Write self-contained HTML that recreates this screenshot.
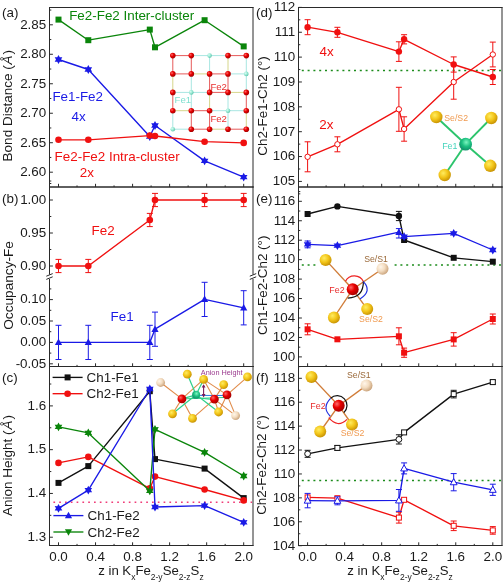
<!DOCTYPE html><html><head><meta charset="utf-8"><style>html,body{margin:0;padding:0;background:#fff;width:504px;height:584px;overflow:hidden}svg text{font-family:"Liberation Sans",sans-serif}</style></head><body><svg width="504" height="584" viewBox="0 0 504 584" style="position:absolute;left:0;top:0;will-change:transform" font-family='"Liberation Sans", sans-serif'>
<rect width="504" height="584" fill="#fff"/>
<defs><radialGradient id="gy" cx="0.38" cy="0.35" r="0.72"><stop offset="0" stop-color="#ffec60"/><stop offset="0.5" stop-color="#f2c418"/><stop offset="1" stop-color="#c08a00"/></radialGradient><radialGradient id="gt" cx="0.35" cy="0.35" r="0.7"><stop offset="0" stop-color="#fff6ea"/><stop offset="0.5" stop-color="#f3dcc0"/><stop offset="1" stop-color="#c9a27a"/></radialGradient><radialGradient id="gr" cx="0.35" cy="0.35" r="0.7"><stop offset="0" stop-color="#ff6a6a"/><stop offset="0.45" stop-color="#e80000"/><stop offset="1" stop-color="#a00000"/></radialGradient><radialGradient id="gc" cx="0.55" cy="0.35" r="0.75"><stop offset="0" stop-color="#7cf5c0"/><stop offset="0.45" stop-color="#1cc080"/><stop offset="0.85" stop-color="#11906a"/><stop offset="1" stop-color="#1a4a80"/></radialGradient><radialGradient id="gcl" cx="0.35" cy="0.35" r="0.7"><stop offset="0" stop-color="#d8fff4"/><stop offset="0.6" stop-color="#8de3cc"/><stop offset="1" stop-color="#5cc3aa"/></radialGradient></defs>
<line x1="172.80" y1="55.60" x2="191.30" y2="55.60" stroke="#e65a5a" stroke-width="1.0" />
<line x1="191.30" y1="55.60" x2="209.60" y2="55.60" stroke="#a8e6e2" stroke-width="1.0" />
<line x1="209.60" y1="55.60" x2="228.00" y2="55.60" stroke="#a8e6e2" stroke-width="1.0" />
<line x1="228.00" y1="55.60" x2="246.30" y2="55.60" stroke="#e65a5a" stroke-width="1.0" />
<line x1="172.80" y1="73.90" x2="191.30" y2="73.90" stroke="#e65a5a" stroke-width="1.0" />
<line x1="191.30" y1="73.90" x2="209.60" y2="73.90" stroke="#d6d68a" stroke-width="1.0" />
<line x1="209.60" y1="73.90" x2="228.00" y2="73.90" stroke="#e65a5a" stroke-width="1.0" />
<line x1="228.00" y1="73.90" x2="246.30" y2="73.90" stroke="#a8e6e2" stroke-width="1.0" />
<line x1="172.80" y1="92.40" x2="191.30" y2="92.40" stroke="#a8e6e2" stroke-width="1.0" />
<line x1="191.30" y1="92.40" x2="209.60" y2="92.40" stroke="#a8e6e2" stroke-width="1.0" />
<line x1="209.60" y1="92.40" x2="228.00" y2="92.40" stroke="#e65a5a" stroke-width="1.0" />
<line x1="228.00" y1="92.40" x2="246.30" y2="92.40" stroke="#d6d68a" stroke-width="1.0" />
<line x1="172.80" y1="110.70" x2="191.30" y2="110.70" stroke="#d6d68a" stroke-width="1.0" />
<line x1="191.30" y1="110.70" x2="209.60" y2="110.70" stroke="#e65a5a" stroke-width="1.0" />
<line x1="209.60" y1="110.70" x2="228.00" y2="110.70" stroke="#a8e6e2" stroke-width="1.0" />
<line x1="228.00" y1="110.70" x2="246.30" y2="110.70" stroke="#a8e6e2" stroke-width="1.0" />
<line x1="172.80" y1="129.20" x2="191.30" y2="129.20" stroke="#a8e6e2" stroke-width="1.0" />
<line x1="191.30" y1="129.20" x2="209.60" y2="129.20" stroke="#e65a5a" stroke-width="1.0" />
<line x1="209.60" y1="129.20" x2="228.00" y2="129.20" stroke="#d6d68a" stroke-width="1.0" />
<line x1="228.00" y1="129.20" x2="246.30" y2="129.20" stroke="#e65a5a" stroke-width="1.0" />
<line x1="172.80" y1="55.60" x2="172.80" y2="73.90" stroke="#e65a5a" stroke-width="1.0" />
<line x1="172.80" y1="73.90" x2="172.80" y2="92.40" stroke="#d6d68a" stroke-width="1.0" />
<line x1="172.80" y1="92.40" x2="172.80" y2="110.70" stroke="#e65a5a" stroke-width="1.0" />
<line x1="172.80" y1="110.70" x2="172.80" y2="129.20" stroke="#a8e6e2" stroke-width="1.0" />
<line x1="191.30" y1="55.60" x2="191.30" y2="73.90" stroke="#e65a5a" stroke-width="1.0" />
<line x1="191.30" y1="73.90" x2="191.30" y2="92.40" stroke="#a8e6e2" stroke-width="1.0" />
<line x1="191.30" y1="92.40" x2="191.30" y2="110.70" stroke="#a8e6e2" stroke-width="1.0" />
<line x1="191.30" y1="110.70" x2="191.30" y2="129.20" stroke="#e65a5a" stroke-width="1.0" />
<line x1="209.60" y1="55.60" x2="209.60" y2="73.90" stroke="#a8e6e2" stroke-width="1.0" />
<line x1="209.60" y1="73.90" x2="209.60" y2="92.40" stroke="#e65a5a" stroke-width="1.0" />
<line x1="209.60" y1="92.40" x2="209.60" y2="110.70" stroke="#d6d68a" stroke-width="1.0" />
<line x1="209.60" y1="110.70" x2="209.60" y2="129.20" stroke="#e65a5a" stroke-width="1.0" />
<line x1="228.00" y1="55.60" x2="228.00" y2="73.90" stroke="#d6d68a" stroke-width="1.0" />
<line x1="228.00" y1="73.90" x2="228.00" y2="92.40" stroke="#e65a5a" stroke-width="1.0" />
<line x1="228.00" y1="92.40" x2="228.00" y2="110.70" stroke="#a8e6e2" stroke-width="1.0" />
<line x1="228.00" y1="110.70" x2="228.00" y2="129.20" stroke="#a8e6e2" stroke-width="1.0" />
<line x1="246.30" y1="55.60" x2="246.30" y2="73.90" stroke="#a8e6e2" stroke-width="1.0" />
<line x1="246.30" y1="73.90" x2="246.30" y2="92.40" stroke="#a8e6e2" stroke-width="1.0" />
<line x1="246.30" y1="92.40" x2="246.30" y2="110.70" stroke="#e65a5a" stroke-width="1.0" />
<line x1="246.30" y1="110.70" x2="246.30" y2="129.20" stroke="#d6d68a" stroke-width="1.0" />
<circle cx="172.80" cy="55.60" r="2.8" fill="url(#gr)"/>
<circle cx="191.30" cy="55.60" r="2.8" fill="url(#gr)"/>
<circle cx="209.60" cy="55.60" r="2.3" fill="url(#gcl)"/>
<circle cx="228.00" cy="55.60" r="2.8" fill="url(#gr)"/>
<circle cx="246.30" cy="55.60" r="2.8" fill="url(#gr)"/>
<circle cx="172.80" cy="73.90" r="2.8" fill="url(#gr)"/>
<circle cx="191.30" cy="73.90" r="2.8" fill="url(#gr)"/>
<circle cx="209.60" cy="73.90" r="2.8" fill="url(#gr)"/>
<circle cx="228.00" cy="73.90" r="2.8" fill="url(#gr)"/>
<circle cx="246.30" cy="73.90" r="2.3" fill="url(#gcl)"/>
<circle cx="172.80" cy="92.40" r="2.8" fill="url(#gr)"/>
<circle cx="191.30" cy="92.40" r="2.3" fill="url(#gcl)"/>
<circle cx="209.60" cy="92.40" r="2.8" fill="url(#gr)"/>
<circle cx="228.00" cy="92.40" r="2.8" fill="url(#gr)"/>
<circle cx="246.30" cy="92.40" r="2.8" fill="url(#gr)"/>
<circle cx="172.80" cy="110.70" r="2.8" fill="url(#gr)"/>
<circle cx="191.30" cy="110.70" r="2.8" fill="url(#gr)"/>
<circle cx="209.60" cy="110.70" r="2.8" fill="url(#gr)"/>
<circle cx="228.00" cy="110.70" r="2.3" fill="url(#gcl)"/>
<circle cx="246.30" cy="110.70" r="2.8" fill="url(#gr)"/>
<circle cx="172.80" cy="129.20" r="2.3" fill="url(#gcl)"/>
<circle cx="191.30" cy="129.20" r="2.8" fill="url(#gr)"/>
<circle cx="209.60" cy="129.20" r="2.8" fill="url(#gr)"/>
<circle cx="228.00" cy="129.20" r="2.8" fill="url(#gr)"/>
<circle cx="246.30" cy="129.20" r="2.8" fill="url(#gr)"/>
<text x="210.40" y="89.60" font-size="9.6" fill="#e83030" text-anchor="start" >Fe2</text>
<text x="174.60" y="103.00" font-size="9.6" fill="#7fe0d0" text-anchor="start" >Fe1</text>
<text x="210.40" y="121.60" font-size="9.6" fill="#e83030" text-anchor="start" >Fe2</text>
<polyline points="58.50,19.60 88.30,40.20 149.80,29.60 155.00,47.30 204.60,20.20 243.70,46.40" fill="none" stroke="#0a850a" stroke-width="1.35" stroke-linejoin="round" />
<rect x="55.50" y="16.60" width="6.00" height="6.00" fill="#0a850a"/>
<rect x="85.30" y="37.20" width="6.00" height="6.00" fill="#0a850a"/>
<rect x="146.80" y="26.60" width="6.00" height="6.00" fill="#0a850a"/>
<rect x="152.00" y="44.30" width="6.00" height="6.00" fill="#0a850a"/>
<rect x="201.60" y="17.20" width="6.00" height="6.00" fill="#0a850a"/>
<rect x="240.70" y="43.40" width="6.00" height="6.00" fill="#0a850a"/>
<polyline points="58.50,59.50 88.30,69.50 149.80,136.50 155.00,125.50 204.60,160.90 243.70,177.10" fill="none" stroke="#1a1ae6" stroke-width="1.35" stroke-linejoin="round" />
<polygon points="58.50,55.10 59.75,57.33 62.31,57.30 61.00,59.50 62.31,61.70 59.75,61.67 58.50,63.90 57.25,61.67 54.69,61.70 56.00,59.50 54.69,57.30 57.25,57.33" fill="#1a1ae6"/>
<polygon points="88.30,65.10 89.55,67.33 92.11,67.30 90.80,69.50 92.11,71.70 89.55,71.67 88.30,73.90 87.05,71.67 84.49,71.70 85.80,69.50 84.49,67.30 87.05,67.33" fill="#1a1ae6"/>
<polygon points="149.80,132.10 151.05,134.33 153.61,134.30 152.30,136.50 153.61,138.70 151.05,138.67 149.80,140.90 148.55,138.67 145.99,138.70 147.30,136.50 145.99,134.30 148.55,134.33" fill="#1a1ae6"/>
<polygon points="155.00,121.10 156.25,123.33 158.81,123.30 157.50,125.50 158.81,127.70 156.25,127.67 155.00,129.90 153.75,127.67 151.19,127.70 152.50,125.50 151.19,123.30 153.75,123.33" fill="#1a1ae6"/>
<polygon points="204.60,156.50 205.85,158.73 208.41,158.70 207.10,160.90 208.41,163.10 205.85,163.07 204.60,165.30 203.35,163.07 200.79,163.10 202.10,160.90 200.79,158.70 203.35,158.73" fill="#1a1ae6"/>
<polygon points="243.70,172.70 244.95,174.93 247.51,174.90 246.20,177.10 247.51,179.30 244.95,179.27 243.70,181.50 242.45,179.27 239.89,179.30 241.20,177.10 239.89,174.90 242.45,174.93" fill="#1a1ae6"/>
<polyline points="58.50,139.80 88.30,139.80 149.80,135.60 155.00,136.00 204.60,141.70 243.70,142.90" fill="none" stroke="#f01010" stroke-width="1.35" stroke-linejoin="round" />
<circle cx="58.50" cy="139.80" r="3.3" fill="#f01010"/>
<circle cx="88.30" cy="139.80" r="3.3" fill="#f01010"/>
<circle cx="149.80" cy="135.60" r="3.3" fill="#f01010"/>
<circle cx="155.00" cy="136.00" r="3.3" fill="#f01010"/>
<circle cx="204.60" cy="141.70" r="3.3" fill="#f01010"/>
<circle cx="243.70" cy="142.90" r="3.3" fill="#f01010"/>
<text x="69.20" y="20.30" font-size="13.4" fill="#0a850a" text-anchor="start" >Fe2-Fe2 Inter-cluster</text>
<text x="52.40" y="100.80" font-size="13.4" fill="#1a1ae6" text-anchor="start" >Fe1-Fe2</text>
<text x="71.60" y="120.70" font-size="13.4" fill="#1a1ae6" text-anchor="start" >4x</text>
<text x="54.60" y="161.10" font-size="13.4" fill="#f01010" text-anchor="start" >Fe2-Fe2 Intra-cluster</text>
<text x="79.80" y="177.00" font-size="13.4" fill="#f01010" text-anchor="start" >2x</text>
<line x1="49.50" y1="7.00" x2="49.50" y2="187.50" stroke="#2a2a2a" stroke-width="1.0" />
<line x1="253.00" y1="7.00" x2="253.00" y2="187.50" stroke="#2a2a2a" stroke-width="1.0" />
<line x1="49.00" y1="7.50" x2="253.50" y2="7.50" stroke="#2a2a2a" stroke-width="1.0" />
<line x1="49.00" y1="187.00" x2="253.50" y2="187.00" stroke="#2a2a2a" stroke-width="1.0" />
<line x1="58.50" y1="187.00" x2="58.50" y2="183.80" stroke="#2a2a2a" stroke-width="1.0" />
<line x1="77.02" y1="187.00" x2="77.02" y2="185.40" stroke="#2a2a2a" stroke-width="1.0" />
<line x1="95.54" y1="187.00" x2="95.54" y2="183.80" stroke="#2a2a2a" stroke-width="1.0" />
<line x1="114.06" y1="187.00" x2="114.06" y2="185.40" stroke="#2a2a2a" stroke-width="1.0" />
<line x1="132.58" y1="187.00" x2="132.58" y2="183.80" stroke="#2a2a2a" stroke-width="1.0" />
<line x1="151.10" y1="187.00" x2="151.10" y2="185.40" stroke="#2a2a2a" stroke-width="1.0" />
<line x1="169.62" y1="187.00" x2="169.62" y2="183.80" stroke="#2a2a2a" stroke-width="1.0" />
<line x1="188.14" y1="187.00" x2="188.14" y2="185.40" stroke="#2a2a2a" stroke-width="1.0" />
<line x1="206.66" y1="187.00" x2="206.66" y2="183.80" stroke="#2a2a2a" stroke-width="1.0" />
<line x1="225.18" y1="187.00" x2="225.18" y2="185.40" stroke="#2a2a2a" stroke-width="1.0" />
<line x1="243.70" y1="187.00" x2="243.70" y2="183.80" stroke="#2a2a2a" stroke-width="1.0" />
<line x1="49.50" y1="24.80" x2="52.90" y2="24.80" stroke="#2a2a2a" stroke-width="1.0" />
<line x1="49.50" y1="54.28" x2="52.90" y2="54.28" stroke="#2a2a2a" stroke-width="1.0" />
<line x1="49.50" y1="83.76" x2="52.90" y2="83.76" stroke="#2a2a2a" stroke-width="1.0" />
<line x1="49.50" y1="113.24" x2="52.90" y2="113.24" stroke="#2a2a2a" stroke-width="1.0" />
<line x1="49.50" y1="142.72" x2="52.90" y2="142.72" stroke="#2a2a2a" stroke-width="1.0" />
<line x1="49.50" y1="172.20" x2="52.90" y2="172.20" stroke="#2a2a2a" stroke-width="1.0" />
<line x1="49.50" y1="10.06" x2="51.30" y2="10.06" stroke="#2a2a2a" stroke-width="1.0" />
<line x1="49.50" y1="39.54" x2="51.30" y2="39.54" stroke="#2a2a2a" stroke-width="1.0" />
<line x1="49.50" y1="69.02" x2="51.30" y2="69.02" stroke="#2a2a2a" stroke-width="1.0" />
<line x1="49.50" y1="98.50" x2="51.30" y2="98.50" stroke="#2a2a2a" stroke-width="1.0" />
<line x1="49.50" y1="127.98" x2="51.30" y2="127.98" stroke="#2a2a2a" stroke-width="1.0" />
<line x1="49.50" y1="157.46" x2="51.30" y2="157.46" stroke="#2a2a2a" stroke-width="1.0" />
<line x1="49.50" y1="181.04" x2="51.30" y2="181.04" stroke="#2a2a2a" stroke-width="1.0" />
<text x="46.20" y="28.60" font-size="13.4" fill="#1a1a1a" text-anchor="end" >2.85</text>
<text x="46.20" y="58.08" font-size="13.4" fill="#1a1a1a" text-anchor="end" >2.80</text>
<text x="46.20" y="87.56" font-size="13.4" fill="#1a1a1a" text-anchor="end" >2.75</text>
<text x="46.20" y="117.04" font-size="13.4" fill="#1a1a1a" text-anchor="end" >2.70</text>
<text x="46.20" y="146.52" font-size="13.4" fill="#1a1a1a" text-anchor="end" >2.65</text>
<text x="46.20" y="176.00" font-size="13.4" fill="#1a1a1a" text-anchor="end" >2.60</text>
<text x="2.00" y="17.40" font-size="13.4" fill="#1a1a1a" text-anchor="start" >(a)</text>
<text transform="translate(12.2,105.7) rotate(-90)" font-size="13.5" fill="#1a1a1a" text-anchor="middle">Bond Distance (<tspan dx="0.9" font-style="italic">Å</tspan><tspan dx="0.9">)</tspan></text>
<polyline points="58.50,266.00 88.30,266.00 149.80,220.00 155.00,200.00 204.60,200.00 243.70,200.00" fill="none" stroke="#f01010" stroke-width="1.35" stroke-linejoin="round" />
<line x1="58.50" y1="259.40" x2="58.50" y2="272.60" stroke="#f01010" stroke-width="1.0" />
<line x1="55.50" y1="259.40" x2="61.50" y2="259.40" stroke="#f01010" stroke-width="1.0" />
<line x1="55.50" y1="272.60" x2="61.50" y2="272.60" stroke="#f01010" stroke-width="1.0" />
<circle cx="58.50" cy="266.00" r="3.3" fill="#f01010"/>
<line x1="88.30" y1="259.40" x2="88.30" y2="272.60" stroke="#f01010" stroke-width="1.0" />
<line x1="85.30" y1="259.40" x2="91.30" y2="259.40" stroke="#f01010" stroke-width="1.0" />
<line x1="85.30" y1="272.60" x2="91.30" y2="272.60" stroke="#f01010" stroke-width="1.0" />
<circle cx="88.30" cy="266.00" r="3.3" fill="#f01010"/>
<line x1="149.80" y1="213.40" x2="149.80" y2="226.60" stroke="#f01010" stroke-width="1.0" />
<line x1="146.80" y1="213.40" x2="152.80" y2="213.40" stroke="#f01010" stroke-width="1.0" />
<line x1="146.80" y1="226.60" x2="152.80" y2="226.60" stroke="#f01010" stroke-width="1.0" />
<circle cx="149.80" cy="220.00" r="3.3" fill="#f01010"/>
<line x1="155.00" y1="193.40" x2="155.00" y2="206.60" stroke="#f01010" stroke-width="1.0" />
<line x1="152.00" y1="193.40" x2="158.00" y2="193.40" stroke="#f01010" stroke-width="1.0" />
<line x1="152.00" y1="206.60" x2="158.00" y2="206.60" stroke="#f01010" stroke-width="1.0" />
<circle cx="155.00" cy="200.00" r="3.3" fill="#f01010"/>
<line x1="204.60" y1="193.40" x2="204.60" y2="206.60" stroke="#f01010" stroke-width="1.0" />
<line x1="201.60" y1="193.40" x2="207.60" y2="193.40" stroke="#f01010" stroke-width="1.0" />
<line x1="201.60" y1="206.60" x2="207.60" y2="206.60" stroke="#f01010" stroke-width="1.0" />
<circle cx="204.60" cy="200.00" r="3.3" fill="#f01010"/>
<line x1="243.70" y1="193.40" x2="243.70" y2="206.60" stroke="#f01010" stroke-width="1.0" />
<line x1="240.70" y1="193.40" x2="246.70" y2="193.40" stroke="#f01010" stroke-width="1.0" />
<line x1="240.70" y1="206.60" x2="246.70" y2="206.60" stroke="#f01010" stroke-width="1.0" />
<circle cx="243.70" cy="200.00" r="3.3" fill="#f01010"/>
<polyline points="58.50,342.40 88.30,342.40 149.80,342.40 155.00,329.20 204.60,299.40 243.70,307.80" fill="none" stroke="#1a1ae6" stroke-width="1.35" stroke-linejoin="round" />
<line x1="58.50" y1="325.30" x2="58.50" y2="359.50" stroke="#1a1ae6" stroke-width="1.0" />
<line x1="55.50" y1="325.30" x2="61.50" y2="325.30" stroke="#1a1ae6" stroke-width="1.0" />
<line x1="55.50" y1="359.50" x2="61.50" y2="359.50" stroke="#1a1ae6" stroke-width="1.0" />
<polygon points="58.50,338.62 62.10,345.10 54.90,345.10" fill="#1a1ae6"/>
<line x1="88.30" y1="325.30" x2="88.30" y2="359.50" stroke="#1a1ae6" stroke-width="1.0" />
<line x1="85.30" y1="325.30" x2="91.30" y2="325.30" stroke="#1a1ae6" stroke-width="1.0" />
<line x1="85.30" y1="359.50" x2="91.30" y2="359.50" stroke="#1a1ae6" stroke-width="1.0" />
<polygon points="88.30,338.62 91.90,345.10 84.70,345.10" fill="#1a1ae6"/>
<line x1="149.80" y1="325.30" x2="149.80" y2="359.50" stroke="#1a1ae6" stroke-width="1.0" />
<line x1="146.80" y1="325.30" x2="152.80" y2="325.30" stroke="#1a1ae6" stroke-width="1.0" />
<line x1="146.80" y1="359.50" x2="152.80" y2="359.50" stroke="#1a1ae6" stroke-width="1.0" />
<polygon points="149.80,338.62 153.40,345.10 146.20,345.10" fill="#1a1ae6"/>
<line x1="155.00" y1="312.10" x2="155.00" y2="346.30" stroke="#1a1ae6" stroke-width="1.0" />
<line x1="152.00" y1="312.10" x2="158.00" y2="312.10" stroke="#1a1ae6" stroke-width="1.0" />
<line x1="152.00" y1="346.30" x2="158.00" y2="346.30" stroke="#1a1ae6" stroke-width="1.0" />
<polygon points="155.00,325.42 158.60,331.90 151.40,331.90" fill="#1a1ae6"/>
<line x1="204.60" y1="282.30" x2="204.60" y2="316.50" stroke="#1a1ae6" stroke-width="1.0" />
<line x1="201.60" y1="282.30" x2="207.60" y2="282.30" stroke="#1a1ae6" stroke-width="1.0" />
<line x1="201.60" y1="316.50" x2="207.60" y2="316.50" stroke="#1a1ae6" stroke-width="1.0" />
<polygon points="204.60,295.62 208.20,302.10 201.00,302.10" fill="#1a1ae6"/>
<line x1="243.70" y1="290.70" x2="243.70" y2="324.90" stroke="#1a1ae6" stroke-width="1.0" />
<line x1="240.70" y1="290.70" x2="246.70" y2="290.70" stroke="#1a1ae6" stroke-width="1.0" />
<line x1="240.70" y1="324.90" x2="246.70" y2="324.90" stroke="#1a1ae6" stroke-width="1.0" />
<polygon points="243.70,304.02 247.30,310.50 240.10,310.50" fill="#1a1ae6"/>
<text x="91.60" y="234.60" font-size="13.4" fill="#f01010" text-anchor="start" >Fe2</text>
<text x="110.60" y="321.40" font-size="13.4" fill="#1a1ae6" text-anchor="start" >Fe1</text>
<line x1="49.50" y1="186.50" x2="49.50" y2="367.00" stroke="#2a2a2a" stroke-width="1.0" />
<line x1="253.00" y1="186.50" x2="253.00" y2="367.00" stroke="#2a2a2a" stroke-width="1.0" />
<line x1="49.00" y1="187.00" x2="253.50" y2="187.00" stroke="#2a2a2a" stroke-width="1.0" />
<line x1="49.00" y1="366.50" x2="253.50" y2="366.50" stroke="#2a2a2a" stroke-width="1.0" />
<line x1="58.50" y1="366.50" x2="58.50" y2="363.30" stroke="#2a2a2a" stroke-width="1.0" />
<line x1="77.02" y1="366.50" x2="77.02" y2="364.90" stroke="#2a2a2a" stroke-width="1.0" />
<line x1="95.54" y1="366.50" x2="95.54" y2="363.30" stroke="#2a2a2a" stroke-width="1.0" />
<line x1="114.06" y1="366.50" x2="114.06" y2="364.90" stroke="#2a2a2a" stroke-width="1.0" />
<line x1="132.58" y1="366.50" x2="132.58" y2="363.30" stroke="#2a2a2a" stroke-width="1.0" />
<line x1="151.10" y1="366.50" x2="151.10" y2="364.90" stroke="#2a2a2a" stroke-width="1.0" />
<line x1="169.62" y1="366.50" x2="169.62" y2="363.30" stroke="#2a2a2a" stroke-width="1.0" />
<line x1="188.14" y1="366.50" x2="188.14" y2="364.90" stroke="#2a2a2a" stroke-width="1.0" />
<line x1="206.66" y1="366.50" x2="206.66" y2="363.30" stroke="#2a2a2a" stroke-width="1.0" />
<line x1="225.18" y1="366.50" x2="225.18" y2="364.90" stroke="#2a2a2a" stroke-width="1.0" />
<line x1="243.70" y1="366.50" x2="243.70" y2="363.30" stroke="#2a2a2a" stroke-width="1.0" />
<line x1="49.50" y1="200.00" x2="52.90" y2="200.00" stroke="#2a2a2a" stroke-width="1.0" />
<line x1="49.50" y1="233.00" x2="52.90" y2="233.00" stroke="#2a2a2a" stroke-width="1.0" />
<line x1="49.50" y1="266.00" x2="52.90" y2="266.00" stroke="#2a2a2a" stroke-width="1.0" />
<line x1="49.50" y1="299.60" x2="52.90" y2="299.60" stroke="#2a2a2a" stroke-width="1.0" />
<line x1="49.50" y1="321.00" x2="52.90" y2="321.00" stroke="#2a2a2a" stroke-width="1.0" />
<line x1="49.50" y1="342.40" x2="52.90" y2="342.40" stroke="#2a2a2a" stroke-width="1.0" />
<line x1="49.50" y1="363.80" x2="52.90" y2="363.80" stroke="#2a2a2a" stroke-width="1.0" />
<line x1="49.50" y1="183.50" x2="51.30" y2="183.50" stroke="#2a2a2a" stroke-width="1.0" />
<line x1="49.50" y1="216.50" x2="51.30" y2="216.50" stroke="#2a2a2a" stroke-width="1.0" />
<line x1="49.50" y1="249.50" x2="51.30" y2="249.50" stroke="#2a2a2a" stroke-width="1.0" />
<line x1="49.50" y1="288.90" x2="51.30" y2="288.90" stroke="#2a2a2a" stroke-width="1.0" />
<line x1="49.50" y1="310.30" x2="51.30" y2="310.30" stroke="#2a2a2a" stroke-width="1.0" />
<line x1="49.50" y1="331.70" x2="51.30" y2="331.70" stroke="#2a2a2a" stroke-width="1.0" />
<line x1="49.50" y1="353.10" x2="51.30" y2="353.10" stroke="#2a2a2a" stroke-width="1.0" />
<text x="46.20" y="203.80" font-size="13.4" fill="#1a1a1a" text-anchor="end" >1.00</text>
<text x="46.20" y="236.80" font-size="13.4" fill="#1a1a1a" text-anchor="end" >0.95</text>
<text x="46.20" y="269.80" font-size="13.4" fill="#1a1a1a" text-anchor="end" >0.90</text>
<text x="46.20" y="303.40" font-size="13.4" fill="#1a1a1a" text-anchor="end" >0.10</text>
<text x="46.20" y="324.80" font-size="13.4" fill="#1a1a1a" text-anchor="end" >0.05</text>
<text x="46.20" y="346.20" font-size="13.4" fill="#1a1a1a" text-anchor="end" >0.00</text>
<text x="46.20" y="367.60" font-size="13.4" fill="#1a1a1a" text-anchor="end" >-0.05</text>
<rect x="46.5" y="274.6" width="6" height="4.4" fill="#fff"/>
<line x1="46.30" y1="276.20" x2="52.70" y2="273.60" stroke="#2a2a2a" stroke-width="1.0" />
<line x1="46.30" y1="279.40" x2="52.70" y2="276.80" stroke="#2a2a2a" stroke-width="1.0" />
<rect x="250.0" y="274.6" width="6" height="4.4" fill="#fff"/>
<line x1="249.80" y1="276.20" x2="256.20" y2="273.60" stroke="#2a2a2a" stroke-width="1.0" />
<line x1="249.80" y1="279.40" x2="256.20" y2="276.80" stroke="#2a2a2a" stroke-width="1.0" />
<text x="2.00" y="202.90" font-size="13.4" fill="#1a1a1a" text-anchor="start" >(b)</text>
<text transform="translate(12.8,285.4) rotate(-90)" font-size="13.65" fill="#1a1a1a" text-anchor="middle">Occupancy-Fe</text>
<rect x="157" y="368" width="94" height="54" fill="#fff"/>
<line x1="181.90" y1="398.90" x2="160.60" y2="382.50" stroke="#e08a48" stroke-width="1.1" />
<line x1="181.90" y1="398.90" x2="203.60" y2="379.40" stroke="#e08a48" stroke-width="1.1" />
<line x1="181.90" y1="398.90" x2="172.50" y2="413.80" stroke="#e08a48" stroke-width="1.1" />
<line x1="181.90" y1="398.90" x2="192.50" y2="418.40" stroke="#e08a48" stroke-width="1.1" />
<line x1="214.40" y1="399.10" x2="203.60" y2="379.40" stroke="#e08a48" stroke-width="1.1" />
<line x1="214.40" y1="399.10" x2="223.70" y2="384.60" stroke="#e08a48" stroke-width="1.1" />
<line x1="214.40" y1="399.10" x2="192.50" y2="418.40" stroke="#e08a48" stroke-width="1.1" />
<line x1="214.40" y1="399.10" x2="218.60" y2="412.00" stroke="#e08a48" stroke-width="1.1" />
<line x1="214.40" y1="399.10" x2="235.60" y2="415.60" stroke="#e08a48" stroke-width="1.1" />
<line x1="227.00" y1="394.90" x2="203.60" y2="379.40" stroke="#e08a48" stroke-width="1.1" />
<line x1="227.00" y1="394.90" x2="247.50" y2="376.90" stroke="#e08a48" stroke-width="1.1" />
<line x1="227.00" y1="394.90" x2="235.60" y2="415.60" stroke="#e08a48" stroke-width="1.1" />
<line x1="227.00" y1="394.90" x2="218.60" y2="412.00" stroke="#e08a48" stroke-width="1.1" />
<line x1="196.10" y1="394.80" x2="187.30" y2="374.20" stroke="#2cd08a" stroke-width="1.2" />
<line x1="196.10" y1="394.80" x2="203.60" y2="379.40" stroke="#2cd08a" stroke-width="1.2" />
<line x1="196.10" y1="394.80" x2="172.50" y2="413.80" stroke="#2cd08a" stroke-width="1.2" />
<line x1="196.10" y1="394.80" x2="218.60" y2="412.00" stroke="#2cd08a" stroke-width="1.2" />
<line x1="196.10" y1="394.80" x2="181.90" y2="398.90" stroke="#2cd08a" stroke-width="1.2" />
<line x1="196.10" y1="395.40" x2="227.00" y2="395.50" stroke="#2a7ae0" stroke-width="1.0" />
<line x1="196.10" y1="397.80" x2="214.40" y2="399.60" stroke="#2cd08a" stroke-width="1.1" />
<line x1="181.90" y1="398.90" x2="227.00" y2="397.40" stroke="#2cd08a" stroke-width="1.0" />
<circle cx="187.30" cy="374.20" r="4.4" fill="url(#gy)"/>
<circle cx="203.60" cy="379.40" r="4.4" fill="url(#gy)"/>
<circle cx="223.70" cy="384.60" r="4.4" fill="url(#gy)"/>
<circle cx="247.50" cy="376.90" r="4.4" fill="url(#gy)"/>
<circle cx="172.50" cy="413.80" r="4.4" fill="url(#gy)"/>
<circle cx="192.50" cy="418.40" r="4.4" fill="url(#gy)"/>
<circle cx="218.60" cy="412.00" r="4.4" fill="url(#gy)"/>
<circle cx="160.60" cy="382.50" r="4.4" fill="url(#gt)"/>
<circle cx="235.60" cy="415.60" r="4.4" fill="url(#gt)"/>
<circle cx="196.10" cy="394.80" r="4.0" fill="url(#gc)"/>
<circle cx="181.90" cy="398.90" r="4.4" fill="url(#gr)"/>
<circle cx="214.40" cy="399.10" r="4.4" fill="url(#gr)"/>
<circle cx="227.00" cy="394.90" r="4.4" fill="url(#gr)"/>
<line x1="203.60" y1="385.50" x2="203.60" y2="396.00" stroke="#7a1a5a" stroke-width="1.1" />
<polygon points="203.6,384.2 201.7,387.6 205.5,387.6" fill="#7a1a5a"/>
<polygon points="203.6,397.4 201.7,394.0 205.5,394.0" fill="#7a1a5a"/>
<text x="200.80" y="374.80" font-size="7.3" fill="#9a3a8e" text-anchor="start" >Anion Height</text>
<line x1="53.40" y1="502.20" x2="252.00" y2="502.20" stroke="#f03c78" stroke-width="1.4" stroke-dasharray="1.7 4.1"/>
<polyline points="58.50,482.90 88.30,466.10 149.80,391.20 155.00,459.10 204.60,468.60 243.70,498.10" fill="none" stroke="#111" stroke-width="1.35" stroke-linejoin="round" />
<rect x="55.50" y="479.90" width="6.00" height="6.00" fill="#111"/>
<rect x="85.30" y="463.10" width="6.00" height="6.00" fill="#111"/>
<rect x="146.80" y="388.20" width="6.00" height="6.00" fill="#111"/>
<rect x="152.00" y="456.10" width="6.00" height="6.00" fill="#111"/>
<rect x="201.60" y="465.60" width="6.00" height="6.00" fill="#111"/>
<rect x="240.70" y="495.10" width="6.00" height="6.00" fill="#111"/>
<polyline points="58.50,462.90 88.30,456.90 149.80,488.40 155.00,476.60 204.60,489.50 243.70,500.40" fill="none" stroke="#f01010" stroke-width="1.35" stroke-linejoin="round" />
<circle cx="58.50" cy="462.90" r="3.3" fill="#f01010"/>
<circle cx="88.30" cy="456.90" r="3.3" fill="#f01010"/>
<circle cx="149.80" cy="488.40" r="3.3" fill="#f01010"/>
<circle cx="155.00" cy="476.60" r="3.3" fill="#f01010"/>
<circle cx="204.60" cy="489.50" r="3.3" fill="#f01010"/>
<circle cx="243.70" cy="500.40" r="3.3" fill="#f01010"/>
<polyline points="58.50,426.90 88.30,432.90 149.80,490.90 155.00,429.30 204.60,452.30 243.70,476.00" fill="none" stroke="#0a850a" stroke-width="1.35" stroke-linejoin="round" />
<polygon points="58.50,422.50 59.75,424.73 62.31,424.70 61.00,426.90 62.31,429.10 59.75,429.07 58.50,431.30 57.25,429.07 54.69,429.10 56.00,426.90 54.69,424.70 57.25,424.73" fill="#0a850a"/>
<polygon points="88.30,428.50 89.55,430.73 92.11,430.70 90.80,432.90 92.11,435.10 89.55,435.07 88.30,437.30 87.05,435.07 84.49,435.10 85.80,432.90 84.49,430.70 87.05,430.73" fill="#0a850a"/>
<polygon points="149.80,486.50 151.05,488.73 153.61,488.70 152.30,490.90 153.61,493.10 151.05,493.07 149.80,495.30 148.55,493.07 145.99,493.10 147.30,490.90 145.99,488.70 148.55,488.73" fill="#0a850a"/>
<polygon points="155.00,424.90 156.25,427.13 158.81,427.10 157.50,429.30 158.81,431.50 156.25,431.47 155.00,433.70 153.75,431.47 151.19,431.50 152.50,429.30 151.19,427.10 153.75,427.13" fill="#0a850a"/>
<polygon points="204.60,447.90 205.85,450.13 208.41,450.10 207.10,452.30 208.41,454.50 205.85,454.47 204.60,456.70 203.35,454.47 200.79,454.50 202.10,452.30 200.79,450.10 203.35,450.13" fill="#0a850a"/>
<polygon points="243.70,471.60 244.95,473.83 247.51,473.80 246.20,476.00 247.51,478.20 244.95,478.17 243.70,480.40 242.45,478.17 239.89,478.20 241.20,476.00 239.89,473.80 242.45,473.83" fill="#0a850a"/>
<polyline points="58.50,508.30 88.30,490.10 149.80,389.00 155.00,507.00 204.60,505.60 243.70,522.30" fill="none" stroke="#1a1ae6" stroke-width="1.35" stroke-linejoin="round" />
<polygon points="58.50,503.90 59.75,506.13 62.31,506.10 61.00,508.30 62.31,510.50 59.75,510.47 58.50,512.70 57.25,510.47 54.69,510.50 56.00,508.30 54.69,506.10 57.25,506.13" fill="#1a1ae6"/>
<polygon points="88.30,485.70 89.55,487.93 92.11,487.90 90.80,490.10 92.11,492.30 89.55,492.27 88.30,494.50 87.05,492.27 84.49,492.30 85.80,490.10 84.49,487.90 87.05,487.93" fill="#1a1ae6"/>
<polygon points="149.80,384.60 151.05,386.83 153.61,386.80 152.30,389.00 153.61,391.20 151.05,391.17 149.80,393.40 148.55,391.17 145.99,391.20 147.30,389.00 145.99,386.80 148.55,386.83" fill="#1a1ae6"/>
<polygon points="155.00,502.60 156.25,504.83 158.81,504.80 157.50,507.00 158.81,509.20 156.25,509.17 155.00,511.40 153.75,509.17 151.19,509.20 152.50,507.00 151.19,504.80 153.75,504.83" fill="#1a1ae6"/>
<polygon points="204.60,501.20 205.85,503.43 208.41,503.40 207.10,505.60 208.41,507.80 205.85,507.77 204.60,510.00 203.35,507.77 200.79,507.80 202.10,505.60 200.79,503.40 203.35,503.43" fill="#1a1ae6"/>
<polygon points="243.70,517.90 244.95,520.13 247.51,520.10 246.20,522.30 247.51,524.50 244.95,524.47 243.70,526.70 242.45,524.47 239.89,524.50 241.20,522.30 239.89,520.10 242.45,520.13" fill="#1a1ae6"/>
<line x1="52.60" y1="377.40" x2="82.60" y2="377.40" stroke="#111" stroke-width="1.35" />
<rect x="64.60" y="374.40" width="6.00" height="6.00" fill="#111"/>
<text x="86.60" y="381.90" font-size="13.4" fill="#1a1a1a" text-anchor="start" >Ch1-Fe1</text>
<line x1="52.60" y1="393.70" x2="82.60" y2="393.70" stroke="#f01010" stroke-width="1.35" />
<circle cx="67.60" cy="393.70" r="3.3" fill="#f01010"/>
<text x="86.60" y="398.30" font-size="13.4" fill="#1a1a1a" text-anchor="start" >Ch2-Fe1</text>
<line x1="53.40" y1="515.60" x2="83.40" y2="515.60" stroke="#1a1ae6" stroke-width="1.35" />
<polygon points="68.50,511.82 72.10,518.30 64.90,518.30" fill="#1a1ae6"/>
<text x="87.60" y="520.20" font-size="13.4" fill="#1a1a1a" text-anchor="start" >Ch1-Fe2</text>
<line x1="53.40" y1="532.00" x2="83.40" y2="532.00" stroke="#0a850a" stroke-width="1.35" />
<polygon points="68.50,535.78 72.10,529.30 64.90,529.30" fill="#0a850a"/>
<text x="87.60" y="536.50" font-size="13.4" fill="#1a1a1a" text-anchor="start" >Ch2-Fe2</text>
<line x1="49.50" y1="366.00" x2="49.50" y2="546.00" stroke="#2a2a2a" stroke-width="1.0" />
<line x1="253.00" y1="366.00" x2="253.00" y2="546.00" stroke="#2a2a2a" stroke-width="1.0" />
<line x1="49.00" y1="366.50" x2="253.50" y2="366.50" stroke="#2a2a2a" stroke-width="1.0" />
<line x1="49.00" y1="545.50" x2="253.50" y2="545.50" stroke="#2a2a2a" stroke-width="1.0" />
<line x1="58.50" y1="545.50" x2="58.50" y2="542.30" stroke="#2a2a2a" stroke-width="1.0" />
<line x1="77.02" y1="545.50" x2="77.02" y2="543.90" stroke="#2a2a2a" stroke-width="1.0" />
<line x1="95.54" y1="545.50" x2="95.54" y2="542.30" stroke="#2a2a2a" stroke-width="1.0" />
<line x1="114.06" y1="545.50" x2="114.06" y2="543.90" stroke="#2a2a2a" stroke-width="1.0" />
<line x1="132.58" y1="545.50" x2="132.58" y2="542.30" stroke="#2a2a2a" stroke-width="1.0" />
<line x1="151.10" y1="545.50" x2="151.10" y2="543.90" stroke="#2a2a2a" stroke-width="1.0" />
<line x1="169.62" y1="545.50" x2="169.62" y2="542.30" stroke="#2a2a2a" stroke-width="1.0" />
<line x1="188.14" y1="545.50" x2="188.14" y2="543.90" stroke="#2a2a2a" stroke-width="1.0" />
<line x1="206.66" y1="545.50" x2="206.66" y2="542.30" stroke="#2a2a2a" stroke-width="1.0" />
<line x1="225.18" y1="545.50" x2="225.18" y2="543.90" stroke="#2a2a2a" stroke-width="1.0" />
<line x1="243.70" y1="545.50" x2="243.70" y2="542.30" stroke="#2a2a2a" stroke-width="1.0" />
<line x1="49.50" y1="405.90" x2="52.90" y2="405.90" stroke="#2a2a2a" stroke-width="1.0" />
<line x1="49.50" y1="449.67" x2="52.90" y2="449.67" stroke="#2a2a2a" stroke-width="1.0" />
<line x1="49.50" y1="493.44" x2="52.90" y2="493.44" stroke="#2a2a2a" stroke-width="1.0" />
<line x1="49.50" y1="537.21" x2="52.90" y2="537.21" stroke="#2a2a2a" stroke-width="1.0" />
<line x1="49.50" y1="384.02" x2="51.30" y2="384.02" stroke="#2a2a2a" stroke-width="1.0" />
<line x1="49.50" y1="427.78" x2="51.30" y2="427.78" stroke="#2a2a2a" stroke-width="1.0" />
<line x1="49.50" y1="471.56" x2="51.30" y2="471.56" stroke="#2a2a2a" stroke-width="1.0" />
<line x1="49.50" y1="515.33" x2="51.30" y2="515.33" stroke="#2a2a2a" stroke-width="1.0" />
<text x="46.20" y="409.70" font-size="13.4" fill="#1a1a1a" text-anchor="end" >1.6</text>
<text x="46.20" y="453.47" font-size="13.4" fill="#1a1a1a" text-anchor="end" >1.5</text>
<text x="46.20" y="497.24" font-size="13.4" fill="#1a1a1a" text-anchor="end" >1.4</text>
<text x="46.20" y="541.01" font-size="13.4" fill="#1a1a1a" text-anchor="end" >1.3</text>
<text x="2.00" y="382.30" font-size="13.4" fill="#1a1a1a" text-anchor="start" >(c)</text>
<text transform="translate(12.3,465.5) rotate(-90)" font-size="13.5" fill="#1a1a1a" text-anchor="middle">Anion Height (<tspan dx="0.9" font-style="italic">Å</tspan><tspan dx="0.9">)</tspan></text>
<text x="58.50" y="560.50" font-size="13.4" fill="#1a1a1a" text-anchor="middle" >0.0</text>
<text x="95.54" y="560.50" font-size="13.4" fill="#1a1a1a" text-anchor="middle" >0.4</text>
<text x="132.58" y="560.50" font-size="13.4" fill="#1a1a1a" text-anchor="middle" >0.8</text>
<text x="169.62" y="560.50" font-size="13.4" fill="#1a1a1a" text-anchor="middle" >1.2</text>
<text x="206.66" y="560.50" font-size="13.4" fill="#1a1a1a" text-anchor="middle" >1.6</text>
<text x="243.70" y="560.50" font-size="13.4" fill="#1a1a1a" text-anchor="middle" >2.0</text>
<text x="98.20" y="575.0" font-size="13.2" fill="#1a1a1a">z in K<tspan font-size="8.5" dy="4.6">x</tspan><tspan dy="-4.6">Fe</tspan><tspan font-size="8.5" dy="4.6">2-y</tspan><tspan dy="-4.6">Se</tspan><tspan font-size="8.5" dy="4.6">2-z</tspan><tspan dy="-4.6">S</tspan><tspan font-size="8.5" dy="4.6">z</tspan></text>
<line x1="301.80" y1="70.40" x2="501.00" y2="70.40" stroke="#1c8c1c" stroke-width="1.5" stroke-dasharray="2 3.8"/>
<polyline points="307.60,156.80 337.40,144.30 398.90,109.30 404.10,129.00 453.70,82.00 492.80,54.50" fill="none" stroke="#f01010" stroke-width="1.35" stroke-linejoin="round" />
<line x1="307.60" y1="141.80" x2="307.60" y2="171.80" stroke="#f01010" stroke-width="1.0" />
<line x1="304.60" y1="141.80" x2="310.60" y2="141.80" stroke="#f01010" stroke-width="1.0" />
<line x1="304.60" y1="171.80" x2="310.60" y2="171.80" stroke="#f01010" stroke-width="1.0" />
<line x1="337.40" y1="136.80" x2="337.40" y2="151.80" stroke="#f01010" stroke-width="1.0" />
<line x1="334.40" y1="136.80" x2="340.40" y2="136.80" stroke="#f01010" stroke-width="1.0" />
<line x1="334.40" y1="151.80" x2="340.40" y2="151.80" stroke="#f01010" stroke-width="1.0" />
<line x1="398.90" y1="87.30" x2="398.90" y2="131.30" stroke="#f01010" stroke-width="1.0" />
<line x1="395.90" y1="87.30" x2="401.90" y2="87.30" stroke="#f01010" stroke-width="1.0" />
<line x1="395.90" y1="131.30" x2="401.90" y2="131.30" stroke="#f01010" stroke-width="1.0" />
<line x1="404.10" y1="116.80" x2="404.10" y2="141.20" stroke="#f01010" stroke-width="1.0" />
<line x1="401.10" y1="116.80" x2="407.10" y2="116.80" stroke="#f01010" stroke-width="1.0" />
<line x1="401.10" y1="141.20" x2="407.10" y2="141.20" stroke="#f01010" stroke-width="1.0" />
<line x1="453.70" y1="64.80" x2="453.70" y2="99.20" stroke="#f01010" stroke-width="1.0" />
<line x1="450.70" y1="64.80" x2="456.70" y2="64.80" stroke="#f01010" stroke-width="1.0" />
<line x1="450.70" y1="99.20" x2="456.70" y2="99.20" stroke="#f01010" stroke-width="1.0" />
<line x1="492.80" y1="42.10" x2="492.80" y2="66.90" stroke="#f01010" stroke-width="1.0" />
<line x1="489.80" y1="42.10" x2="495.80" y2="42.10" stroke="#f01010" stroke-width="1.0" />
<line x1="489.80" y1="66.90" x2="495.80" y2="66.90" stroke="#f01010" stroke-width="1.0" />
<polyline points="307.60,27.20 337.40,32.30 398.90,51.60 404.10,39.30 453.70,64.50 492.80,77.00" fill="none" stroke="#f01010" stroke-width="1.35" stroke-linejoin="round" />
<line x1="307.60" y1="19.70" x2="307.60" y2="34.70" stroke="#f01010" stroke-width="1.0" />
<line x1="304.60" y1="19.70" x2="310.60" y2="19.70" stroke="#f01010" stroke-width="1.0" />
<line x1="304.60" y1="34.70" x2="310.60" y2="34.70" stroke="#f01010" stroke-width="1.0" />
<line x1="337.40" y1="27.30" x2="337.40" y2="37.30" stroke="#f01010" stroke-width="1.0" />
<line x1="334.40" y1="27.30" x2="340.40" y2="27.30" stroke="#f01010" stroke-width="1.0" />
<line x1="334.40" y1="37.30" x2="340.40" y2="37.30" stroke="#f01010" stroke-width="1.0" />
<line x1="398.90" y1="41.80" x2="398.90" y2="61.40" stroke="#f01010" stroke-width="1.0" />
<line x1="395.90" y1="41.80" x2="401.90" y2="41.80" stroke="#f01010" stroke-width="1.0" />
<line x1="395.90" y1="61.40" x2="401.90" y2="61.40" stroke="#f01010" stroke-width="1.0" />
<line x1="404.10" y1="34.70" x2="404.10" y2="43.90" stroke="#f01010" stroke-width="1.0" />
<line x1="401.10" y1="34.70" x2="407.10" y2="34.70" stroke="#f01010" stroke-width="1.0" />
<line x1="401.10" y1="43.90" x2="407.10" y2="43.90" stroke="#f01010" stroke-width="1.0" />
<line x1="453.70" y1="56.90" x2="453.70" y2="72.10" stroke="#f01010" stroke-width="1.0" />
<line x1="450.70" y1="56.90" x2="456.70" y2="56.90" stroke="#f01010" stroke-width="1.0" />
<line x1="450.70" y1="72.10" x2="456.70" y2="72.10" stroke="#f01010" stroke-width="1.0" />
<line x1="492.80" y1="69.50" x2="492.80" y2="84.50" stroke="#f01010" stroke-width="1.0" />
<line x1="489.80" y1="69.50" x2="495.80" y2="69.50" stroke="#f01010" stroke-width="1.0" />
<line x1="489.80" y1="84.50" x2="495.80" y2="84.50" stroke="#f01010" stroke-width="1.0" />
<circle cx="307.60" cy="156.80" r="2.7" fill="#fff" stroke="#f01010" stroke-width="1.0"/>
<circle cx="337.40" cy="144.30" r="2.7" fill="#fff" stroke="#f01010" stroke-width="1.0"/>
<circle cx="398.90" cy="109.30" r="2.7" fill="#fff" stroke="#f01010" stroke-width="1.0"/>
<circle cx="404.10" cy="129.00" r="2.7" fill="#fff" stroke="#f01010" stroke-width="1.0"/>
<circle cx="453.70" cy="82.00" r="2.7" fill="#fff" stroke="#f01010" stroke-width="1.0"/>
<circle cx="492.80" cy="54.50" r="2.7" fill="#fff" stroke="#f01010" stroke-width="1.0"/>
<circle cx="307.60" cy="27.20" r="3.2" fill="#f01010"/>
<circle cx="337.40" cy="32.30" r="3.2" fill="#f01010"/>
<circle cx="398.90" cy="51.60" r="3.2" fill="#f01010"/>
<circle cx="404.10" cy="39.30" r="3.2" fill="#f01010"/>
<circle cx="453.70" cy="64.50" r="3.2" fill="#f01010"/>
<circle cx="492.80" cy="77.00" r="3.2" fill="#f01010"/>
<text x="319.60" y="56.00" font-size="13.4" fill="#f01010" text-anchor="start" >4x</text>
<text x="319.20" y="129.20" font-size="13.4" fill="#f01010" text-anchor="start" >2x</text>
<line x1="465.60" y1="144.20" x2="436.30" y2="117.00" stroke="#2cc46c" stroke-width="1.9" />
<line x1="465.60" y1="144.20" x2="491.30" y2="118.00" stroke="#2cc46c" stroke-width="1.9" />
<line x1="465.60" y1="144.20" x2="490.30" y2="165.80" stroke="#2cc46c" stroke-width="1.9" />
<line x1="465.60" y1="144.20" x2="444.70" y2="175.00" stroke="#2cc46c" stroke-width="1.9" />
<circle cx="436.30" cy="117.00" r="6.2" fill="url(#gy)"/>
<circle cx="491.30" cy="118.00" r="6.2" fill="url(#gy)"/>
<circle cx="490.30" cy="165.80" r="6.2" fill="url(#gy)"/>
<circle cx="444.70" cy="175.00" r="6.2" fill="url(#gy)"/>
<circle cx="465.60" cy="144.20" r="6.4" fill="url(#gc)"/>
<text x="444.30" y="121.40" font-size="8.7" fill="#f09a50" text-anchor="start" >Se/S2</text>
<text x="442.20" y="148.70" font-size="8.9" fill="#44d4bc" text-anchor="start" >Fe1</text>
<line x1="298.50" y1="7.00" x2="298.50" y2="187.50" stroke="#2a2a2a" stroke-width="1.0" />
<line x1="502.00" y1="7.00" x2="502.00" y2="187.50" stroke="#2a2a2a" stroke-width="1.0" />
<line x1="298.00" y1="7.50" x2="502.50" y2="7.50" stroke="#2a2a2a" stroke-width="1.0" />
<line x1="298.00" y1="187.00" x2="502.50" y2="187.00" stroke="#2a2a2a" stroke-width="1.0" />
<line x1="307.60" y1="187.00" x2="307.60" y2="183.80" stroke="#2a2a2a" stroke-width="1.0" />
<line x1="326.12" y1="187.00" x2="326.12" y2="185.40" stroke="#2a2a2a" stroke-width="1.0" />
<line x1="344.64" y1="187.00" x2="344.64" y2="183.80" stroke="#2a2a2a" stroke-width="1.0" />
<line x1="363.16" y1="187.00" x2="363.16" y2="185.40" stroke="#2a2a2a" stroke-width="1.0" />
<line x1="381.68" y1="187.00" x2="381.68" y2="183.80" stroke="#2a2a2a" stroke-width="1.0" />
<line x1="400.20" y1="187.00" x2="400.20" y2="185.40" stroke="#2a2a2a" stroke-width="1.0" />
<line x1="418.72" y1="187.00" x2="418.72" y2="183.80" stroke="#2a2a2a" stroke-width="1.0" />
<line x1="437.24" y1="187.00" x2="437.24" y2="185.40" stroke="#2a2a2a" stroke-width="1.0" />
<line x1="455.76" y1="187.00" x2="455.76" y2="183.80" stroke="#2a2a2a" stroke-width="1.0" />
<line x1="474.28" y1="187.00" x2="474.28" y2="185.40" stroke="#2a2a2a" stroke-width="1.0" />
<line x1="492.80" y1="187.00" x2="492.80" y2="183.80" stroke="#2a2a2a" stroke-width="1.0" />
<line x1="298.50" y1="181.42" x2="301.90" y2="181.42" stroke="#2a2a2a" stroke-width="1.0" />
<line x1="298.50" y1="156.56" x2="301.90" y2="156.56" stroke="#2a2a2a" stroke-width="1.0" />
<line x1="298.50" y1="131.70" x2="301.90" y2="131.70" stroke="#2a2a2a" stroke-width="1.0" />
<line x1="298.50" y1="106.84" x2="301.90" y2="106.84" stroke="#2a2a2a" stroke-width="1.0" />
<line x1="298.50" y1="81.98" x2="301.90" y2="81.98" stroke="#2a2a2a" stroke-width="1.0" />
<line x1="298.50" y1="57.12" x2="301.90" y2="57.12" stroke="#2a2a2a" stroke-width="1.0" />
<line x1="298.50" y1="32.26" x2="301.90" y2="32.26" stroke="#2a2a2a" stroke-width="1.0" />
<line x1="298.50" y1="7.40" x2="301.90" y2="7.40" stroke="#2a2a2a" stroke-width="1.0" />
<line x1="298.50" y1="193.85" x2="300.30" y2="193.85" stroke="#2a2a2a" stroke-width="1.0" />
<line x1="298.50" y1="168.99" x2="300.30" y2="168.99" stroke="#2a2a2a" stroke-width="1.0" />
<line x1="298.50" y1="144.13" x2="300.30" y2="144.13" stroke="#2a2a2a" stroke-width="1.0" />
<line x1="298.50" y1="119.27" x2="300.30" y2="119.27" stroke="#2a2a2a" stroke-width="1.0" />
<line x1="298.50" y1="94.41" x2="300.30" y2="94.41" stroke="#2a2a2a" stroke-width="1.0" />
<line x1="298.50" y1="69.55" x2="300.30" y2="69.55" stroke="#2a2a2a" stroke-width="1.0" />
<line x1="298.50" y1="44.69" x2="300.30" y2="44.69" stroke="#2a2a2a" stroke-width="1.0" />
<line x1="298.50" y1="19.83" x2="300.30" y2="19.83" stroke="#2a2a2a" stroke-width="1.0" />
<text x="295.20" y="185.22" font-size="13.4" fill="#1a1a1a" text-anchor="end" >105</text>
<text x="295.20" y="160.36" font-size="13.4" fill="#1a1a1a" text-anchor="end" >106</text>
<text x="295.20" y="135.50" font-size="13.4" fill="#1a1a1a" text-anchor="end" >107</text>
<text x="295.20" y="110.64" font-size="13.4" fill="#1a1a1a" text-anchor="end" >108</text>
<text x="295.20" y="85.78" font-size="13.4" fill="#1a1a1a" text-anchor="end" >109</text>
<text x="295.20" y="60.92" font-size="13.4" fill="#1a1a1a" text-anchor="end" >110</text>
<text x="295.20" y="36.06" font-size="13.4" fill="#1a1a1a" text-anchor="end" >111</text>
<text x="295.20" y="11.20" font-size="13.4" fill="#1a1a1a" text-anchor="end" >112</text>
<text x="256.00" y="17.40" font-size="13.4" fill="#1a1a1a" text-anchor="start" >(d)</text>
<text transform="translate(266.6,105.9) rotate(-90)" font-size="13.45" fill="#1a1a1a" text-anchor="middle">Ch2-Fe1-Ch2 (°)</text>
<line x1="301.80" y1="264.90" x2="501.00" y2="264.90" stroke="#1c8c1c" stroke-width="1.5" stroke-dasharray="2 3.8"/>
<rect x="318" y="252" width="73" height="73" fill="#fff"/>
<line x1="352.70" y1="289.30" x2="325.60" y2="259.90" stroke="#d07c38" stroke-width="1.35" />
<line x1="352.70" y1="289.30" x2="367.20" y2="309.10" stroke="#d07c38" stroke-width="1.35" />
<line x1="352.70" y1="289.30" x2="333.90" y2="317.50" stroke="#d07c38" stroke-width="1.35" />
<line x1="352.70" y1="289.30" x2="382.50" y2="268.80" stroke="#d07c38" stroke-width="1.35" />
<path d="M 345.5 281.2 A 10 10 0 0 1 363.4 281.6" fill="none" stroke="#ee2222" stroke-width="1.2"/>
<path d="M 363.4 281.6 Q 363.5 297.5 347.8 298.2" fill="none" stroke="#111" stroke-width="1.2"/>
<path d="M 363.4 281.6 Q 372.5 291 360.0 299.0" fill="none" stroke="#2030e0" stroke-width="1.2"/>
<circle cx="325.60" cy="259.90" r="6.0" fill="url(#gy)"/>
<circle cx="367.20" cy="309.10" r="6.0" fill="url(#gy)"/>
<circle cx="333.90" cy="317.50" r="6.0" fill="url(#gy)"/>
<circle cx="382.50" cy="268.80" r="6.0" fill="url(#gt)"/>
<circle cx="352.70" cy="289.30" r="6.0" fill="url(#gr)"/>
<text x="329.30" y="293.30" font-size="8.9" fill="#e82a2a" text-anchor="start" >Fe2</text>
<text x="364.20" y="261.50" font-size="8.7" fill="#9a6838" text-anchor="start" >Se/S1</text>
<text x="359.10" y="321.80" font-size="8.7" fill="#f09a50" text-anchor="start" >Se/S2</text>
<polyline points="307.60,214.00 337.40,206.40 398.90,216.00 404.10,240.00 453.70,257.80 492.80,261.70" fill="none" stroke="#111" stroke-width="1.35" stroke-linejoin="round" />
<line x1="398.90" y1="211.40" x2="398.90" y2="220.60" stroke="#111" stroke-width="1.0" />
<line x1="395.90" y1="211.40" x2="401.90" y2="211.40" stroke="#111" stroke-width="1.0" />
<line x1="395.90" y1="220.60" x2="401.90" y2="220.60" stroke="#111" stroke-width="1.0" />
<rect x="304.60" y="211.00" width="6.00" height="6.00" fill="#111"/>
<circle cx="337.40" cy="206.40" r="3.2" fill="#111"/>
<circle cx="398.90" cy="216.00" r="3.2" fill="#111"/>
<rect x="401.10" y="237.00" width="6.00" height="6.00" fill="#111"/>
<rect x="450.70" y="254.80" width="6.00" height="6.00" fill="#111"/>
<rect x="489.80" y="258.70" width="6.00" height="6.00" fill="#111"/>
<polyline points="307.60,244.40 337.40,245.60 398.90,232.20 404.10,236.60 453.70,233.40 492.80,250.00" fill="none" stroke="#1a1ae6" stroke-width="1.35" stroke-linejoin="round" />
<line x1="307.60" y1="241.00" x2="307.60" y2="247.80" stroke="#1a1ae6" stroke-width="1.0" />
<line x1="304.60" y1="241.00" x2="310.60" y2="241.00" stroke="#1a1ae6" stroke-width="1.0" />
<line x1="304.60" y1="247.80" x2="310.60" y2="247.80" stroke="#1a1ae6" stroke-width="1.0" />
<line x1="398.90" y1="228.60" x2="398.90" y2="238.00" stroke="#1a1ae6" stroke-width="1.0" />
<line x1="395.90" y1="228.60" x2="401.90" y2="228.60" stroke="#1a1ae6" stroke-width="1.0" />
<line x1="395.90" y1="238.00" x2="401.90" y2="238.00" stroke="#1a1ae6" stroke-width="1.0" />
<polygon points="307.60,240.00 308.85,242.23 311.41,242.20 310.10,244.40 311.41,246.60 308.85,246.57 307.60,248.80 306.35,246.57 303.79,246.60 305.10,244.40 303.79,242.20 306.35,242.23" fill="#1a1ae6"/>
<polygon points="337.40,241.20 338.65,243.43 341.21,243.40 339.90,245.60 341.21,247.80 338.65,247.77 337.40,250.00 336.15,247.77 333.59,247.80 334.90,245.60 333.59,243.40 336.15,243.43" fill="#1a1ae6"/>
<polygon points="398.90,228.42 402.50,234.90 395.30,234.90" fill="#1a1ae6"/>
<polygon points="404.10,232.20 405.35,234.43 407.91,234.40 406.60,236.60 407.91,238.80 405.35,238.77 404.10,241.00 402.85,238.77 400.29,238.80 401.60,236.60 400.29,234.40 402.85,234.43" fill="#1a1ae6"/>
<polygon points="453.70,229.00 454.95,231.23 457.51,231.20 456.20,233.40 457.51,235.60 454.95,235.57 453.70,237.80 452.45,235.57 449.89,235.60 451.20,233.40 449.89,231.20 452.45,231.23" fill="#1a1ae6"/>
<polygon points="492.80,245.60 494.05,247.83 496.61,247.80 495.30,250.00 496.61,252.20 494.05,252.17 492.80,254.40 491.55,252.17 488.99,252.20 490.30,250.00 488.99,247.80 491.55,247.83" fill="#1a1ae6"/>
<polyline points="307.60,329.30 337.40,339.30 398.90,336.30 404.10,352.70 453.70,339.40 492.80,319.00" fill="none" stroke="#f01010" stroke-width="1.35" stroke-linejoin="round" />
<line x1="307.60" y1="323.80" x2="307.60" y2="334.80" stroke="#f01010" stroke-width="1.0" />
<line x1="304.60" y1="323.80" x2="310.60" y2="323.80" stroke="#f01010" stroke-width="1.0" />
<line x1="304.60" y1="334.80" x2="310.60" y2="334.80" stroke="#f01010" stroke-width="1.0" />
<rect x="304.60" y="326.30" width="6.00" height="6.00" fill="#f01010"/>
<rect x="334.40" y="336.30" width="6.00" height="6.00" fill="#f01010"/>
<line x1="398.90" y1="327.80" x2="398.90" y2="344.80" stroke="#f01010" stroke-width="1.0" />
<line x1="395.90" y1="327.80" x2="401.90" y2="327.80" stroke="#f01010" stroke-width="1.0" />
<line x1="395.90" y1="344.80" x2="401.90" y2="344.80" stroke="#f01010" stroke-width="1.0" />
<rect x="395.90" y="333.30" width="6.00" height="6.00" fill="#f01010"/>
<line x1="404.10" y1="348.10" x2="404.10" y2="357.30" stroke="#f01010" stroke-width="1.0" />
<line x1="401.10" y1="348.10" x2="407.10" y2="348.10" stroke="#f01010" stroke-width="1.0" />
<line x1="401.10" y1="357.30" x2="407.10" y2="357.30" stroke="#f01010" stroke-width="1.0" />
<rect x="401.10" y="349.70" width="6.00" height="6.00" fill="#f01010"/>
<line x1="453.70" y1="332.70" x2="453.70" y2="346.10" stroke="#f01010" stroke-width="1.0" />
<line x1="450.70" y1="332.70" x2="456.70" y2="332.70" stroke="#f01010" stroke-width="1.0" />
<line x1="450.70" y1="346.10" x2="456.70" y2="346.10" stroke="#f01010" stroke-width="1.0" />
<rect x="450.70" y="336.40" width="6.00" height="6.00" fill="#f01010"/>
<line x1="492.80" y1="314.00" x2="492.80" y2="324.00" stroke="#f01010" stroke-width="1.0" />
<line x1="489.80" y1="314.00" x2="495.80" y2="314.00" stroke="#f01010" stroke-width="1.0" />
<line x1="489.80" y1="324.00" x2="495.80" y2="324.00" stroke="#f01010" stroke-width="1.0" />
<rect x="489.80" y="316.00" width="6.00" height="6.00" fill="#f01010"/>
<line x1="298.50" y1="186.50" x2="298.50" y2="367.00" stroke="#2a2a2a" stroke-width="1.0" />
<line x1="502.00" y1="186.50" x2="502.00" y2="367.00" stroke="#2a2a2a" stroke-width="1.0" />
<line x1="298.00" y1="187.00" x2="502.50" y2="187.00" stroke="#2a2a2a" stroke-width="1.0" />
<line x1="298.00" y1="366.50" x2="502.50" y2="366.50" stroke="#2a2a2a" stroke-width="1.0" />
<line x1="307.60" y1="366.50" x2="307.60" y2="363.30" stroke="#2a2a2a" stroke-width="1.0" />
<line x1="326.12" y1="366.50" x2="326.12" y2="364.90" stroke="#2a2a2a" stroke-width="1.0" />
<line x1="344.64" y1="366.50" x2="344.64" y2="363.30" stroke="#2a2a2a" stroke-width="1.0" />
<line x1="363.16" y1="366.50" x2="363.16" y2="364.90" stroke="#2a2a2a" stroke-width="1.0" />
<line x1="381.68" y1="366.50" x2="381.68" y2="363.30" stroke="#2a2a2a" stroke-width="1.0" />
<line x1="400.20" y1="366.50" x2="400.20" y2="364.90" stroke="#2a2a2a" stroke-width="1.0" />
<line x1="418.72" y1="366.50" x2="418.72" y2="363.30" stroke="#2a2a2a" stroke-width="1.0" />
<line x1="437.24" y1="366.50" x2="437.24" y2="364.90" stroke="#2a2a2a" stroke-width="1.0" />
<line x1="455.76" y1="366.50" x2="455.76" y2="363.30" stroke="#2a2a2a" stroke-width="1.0" />
<line x1="474.28" y1="366.50" x2="474.28" y2="364.90" stroke="#2a2a2a" stroke-width="1.0" />
<line x1="492.80" y1="366.50" x2="492.80" y2="363.30" stroke="#2a2a2a" stroke-width="1.0" />
<line x1="298.50" y1="356.90" x2="301.90" y2="356.90" stroke="#2a2a2a" stroke-width="1.0" />
<line x1="298.50" y1="337.45" x2="301.90" y2="337.45" stroke="#2a2a2a" stroke-width="1.0" />
<line x1="298.50" y1="318.00" x2="301.90" y2="318.00" stroke="#2a2a2a" stroke-width="1.0" />
<line x1="298.50" y1="298.55" x2="301.90" y2="298.55" stroke="#2a2a2a" stroke-width="1.0" />
<line x1="298.50" y1="279.10" x2="301.90" y2="279.10" stroke="#2a2a2a" stroke-width="1.0" />
<line x1="298.50" y1="259.65" x2="301.90" y2="259.65" stroke="#2a2a2a" stroke-width="1.0" />
<line x1="298.50" y1="240.20" x2="301.90" y2="240.20" stroke="#2a2a2a" stroke-width="1.0" />
<line x1="298.50" y1="220.75" x2="301.90" y2="220.75" stroke="#2a2a2a" stroke-width="1.0" />
<line x1="298.50" y1="201.30" x2="301.90" y2="201.30" stroke="#2a2a2a" stroke-width="1.0" />
<line x1="298.50" y1="366.62" x2="300.30" y2="366.62" stroke="#2a2a2a" stroke-width="1.0" />
<line x1="298.50" y1="347.18" x2="300.30" y2="347.18" stroke="#2a2a2a" stroke-width="1.0" />
<line x1="298.50" y1="327.73" x2="300.30" y2="327.73" stroke="#2a2a2a" stroke-width="1.0" />
<line x1="298.50" y1="308.27" x2="300.30" y2="308.27" stroke="#2a2a2a" stroke-width="1.0" />
<line x1="298.50" y1="288.82" x2="300.30" y2="288.82" stroke="#2a2a2a" stroke-width="1.0" />
<line x1="298.50" y1="269.38" x2="300.30" y2="269.38" stroke="#2a2a2a" stroke-width="1.0" />
<line x1="298.50" y1="249.93" x2="300.30" y2="249.93" stroke="#2a2a2a" stroke-width="1.0" />
<line x1="298.50" y1="230.48" x2="300.30" y2="230.48" stroke="#2a2a2a" stroke-width="1.0" />
<line x1="298.50" y1="211.03" x2="300.30" y2="211.03" stroke="#2a2a2a" stroke-width="1.0" />
<line x1="298.50" y1="191.58" x2="300.30" y2="191.58" stroke="#2a2a2a" stroke-width="1.0" />
<text x="295.20" y="360.70" font-size="13.4" fill="#1a1a1a" text-anchor="end" >100</text>
<text x="295.20" y="341.25" font-size="13.4" fill="#1a1a1a" text-anchor="end" >102</text>
<text x="295.20" y="321.80" font-size="13.4" fill="#1a1a1a" text-anchor="end" >104</text>
<text x="295.20" y="302.35" font-size="13.4" fill="#1a1a1a" text-anchor="end" >106</text>
<text x="295.20" y="282.90" font-size="13.4" fill="#1a1a1a" text-anchor="end" >108</text>
<text x="295.20" y="263.45" font-size="13.4" fill="#1a1a1a" text-anchor="end" >110</text>
<text x="295.20" y="244.00" font-size="13.4" fill="#1a1a1a" text-anchor="end" >112</text>
<text x="295.20" y="224.55" font-size="13.4" fill="#1a1a1a" text-anchor="end" >114</text>
<text x="295.20" y="205.10" font-size="13.4" fill="#1a1a1a" text-anchor="end" >116</text>
<text x="256.00" y="202.90" font-size="13.4" fill="#1a1a1a" text-anchor="start" >(e)</text>
<text transform="translate(267.2,285.3) rotate(-90)" font-size="13.45" fill="#1a1a1a" text-anchor="middle">Ch1-Fe2-Ch2 (°)</text>
<line x1="301.80" y1="480.39" x2="501.00" y2="480.39" stroke="#1c8c1c" stroke-width="1.5" stroke-dasharray="2 3.8"/>
<line x1="338.70" y1="405.70" x2="311.50" y2="376.90" stroke="#d07c38" stroke-width="1.35" />
<line x1="338.70" y1="405.70" x2="352.00" y2="424.50" stroke="#d07c38" stroke-width="1.35" />
<line x1="338.70" y1="405.70" x2="320.20" y2="431.50" stroke="#d07c38" stroke-width="1.35" />
<line x1="338.70" y1="405.70" x2="366.50" y2="385.40" stroke="#d07c38" stroke-width="1.35" />
<path d="M 330.6 398.3 A 9.7 9.7 0 1 1 343.9 412.6" fill="none" stroke="#111" stroke-width="1.2"/>
<path d="M 330.6 398.3 Q 321.5 407.5 330.3 416.2" fill="none" stroke="#2030e0" stroke-width="1.2"/>
<path d="M 328.7 417.7 Q 337.8 428.5 347.0 419.3" fill="none" stroke="#ee2222" stroke-width="1.2"/>
<circle cx="311.50" cy="376.90" r="6.0" fill="url(#gy)"/>
<circle cx="352.00" cy="424.50" r="6.0" fill="url(#gy)"/>
<circle cx="320.20" cy="431.50" r="6.0" fill="url(#gy)"/>
<circle cx="366.50" cy="385.40" r="6.0" fill="url(#gt)"/>
<circle cx="338.70" cy="405.70" r="6.0" fill="url(#gr)"/>
<text x="310.30" y="409.30" font-size="8.9" fill="#e82a2a" text-anchor="start" >Fe2</text>
<text x="347.00" y="377.90" font-size="8.7" fill="#9a6838" text-anchor="start" >Se/S1</text>
<text x="340.70" y="436.40" font-size="8.7" fill="#f09a50" text-anchor="start" >Se/S2</text>
<polyline points="307.60,453.80 337.40,447.90 398.90,439.40 404.10,432.40 453.70,394.10 492.80,382.10" fill="none" stroke="#111" stroke-width="1.35" stroke-linejoin="round" />
<line x1="307.60" y1="450.30" x2="307.60" y2="457.30" stroke="#111" stroke-width="1.0" />
<line x1="304.60" y1="450.30" x2="310.60" y2="450.30" stroke="#111" stroke-width="1.0" />
<line x1="304.60" y1="457.30" x2="310.60" y2="457.30" stroke="#111" stroke-width="1.0" />
<circle cx="307.60" cy="453.80" r="2.9" fill="#fff" stroke="#111" stroke-width="1.0"/>
<line x1="337.40" y1="445.50" x2="337.40" y2="450.30" stroke="#111" stroke-width="1.0" />
<line x1="334.40" y1="445.50" x2="340.40" y2="445.50" stroke="#111" stroke-width="1.0" />
<line x1="334.40" y1="450.30" x2="340.40" y2="450.30" stroke="#111" stroke-width="1.0" />
<rect x="334.90" y="445.40" width="5.00" height="5.00" fill="#fff" stroke="#111" stroke-width="1.0"/>
<line x1="398.90" y1="434.80" x2="398.90" y2="444.00" stroke="#111" stroke-width="1.0" />
<line x1="395.90" y1="434.80" x2="401.90" y2="434.80" stroke="#111" stroke-width="1.0" />
<line x1="395.90" y1="444.00" x2="401.90" y2="444.00" stroke="#111" stroke-width="1.0" />
<circle cx="398.90" cy="439.40" r="2.9" fill="#fff" stroke="#111" stroke-width="1.0"/>
<rect x="401.60" y="429.90" width="5.00" height="5.00" fill="#fff" stroke="#111" stroke-width="1.0"/>
<line x1="453.70" y1="390.30" x2="453.70" y2="397.90" stroke="#111" stroke-width="1.0" />
<line x1="450.70" y1="390.30" x2="456.70" y2="390.30" stroke="#111" stroke-width="1.0" />
<line x1="450.70" y1="397.90" x2="456.70" y2="397.90" stroke="#111" stroke-width="1.0" />
<rect x="451.20" y="391.60" width="5.00" height="5.00" fill="#fff" stroke="#111" stroke-width="1.0"/>
<line x1="492.80" y1="380.10" x2="492.80" y2="384.10" stroke="#111" stroke-width="1.0" />
<line x1="489.80" y1="380.10" x2="495.80" y2="380.10" stroke="#111" stroke-width="1.0" />
<line x1="489.80" y1="384.10" x2="495.80" y2="384.10" stroke="#111" stroke-width="1.0" />
<rect x="490.30" y="379.60" width="5.00" height="5.00" fill="#fff" stroke="#111" stroke-width="1.0"/>
<polyline points="307.60,497.40 337.40,498.20 398.90,517.60 404.10,499.80 453.70,525.80 492.80,530.40" fill="none" stroke="#f01010" stroke-width="1.35" stroke-linejoin="round" />
<rect x="305.10" y="494.90" width="5.00" height="5.00" fill="#fff" stroke="#f01010" stroke-width="1.0"/>
<rect x="334.90" y="495.70" width="5.00" height="5.00" fill="#fff" stroke="#f01010" stroke-width="1.0"/>
<line x1="398.90" y1="512.10" x2="398.90" y2="523.10" stroke="#f01010" stroke-width="1.0" />
<line x1="395.90" y1="512.10" x2="401.90" y2="512.10" stroke="#f01010" stroke-width="1.0" />
<line x1="395.90" y1="523.10" x2="401.90" y2="523.10" stroke="#f01010" stroke-width="1.0" />
<rect x="396.40" y="515.10" width="5.00" height="5.00" fill="#fff" stroke="#f01010" stroke-width="1.0"/>
<rect x="401.60" y="497.30" width="5.00" height="5.00" fill="#fff" stroke="#f01010" stroke-width="1.0"/>
<line x1="453.70" y1="521.00" x2="453.70" y2="530.60" stroke="#f01010" stroke-width="1.0" />
<line x1="450.70" y1="521.00" x2="456.70" y2="521.00" stroke="#f01010" stroke-width="1.0" />
<line x1="450.70" y1="530.60" x2="456.70" y2="530.60" stroke="#f01010" stroke-width="1.0" />
<rect x="451.20" y="523.30" width="5.00" height="5.00" fill="#fff" stroke="#f01010" stroke-width="1.0"/>
<line x1="492.80" y1="526.60" x2="492.80" y2="534.20" stroke="#f01010" stroke-width="1.0" />
<line x1="489.80" y1="526.60" x2="495.80" y2="526.60" stroke="#f01010" stroke-width="1.0" />
<line x1="489.80" y1="534.20" x2="495.80" y2="534.20" stroke="#f01010" stroke-width="1.0" />
<rect x="490.30" y="527.90" width="5.00" height="5.00" fill="#fff" stroke="#f01010" stroke-width="1.0"/>
<polyline points="307.60,500.60 337.40,500.80 398.90,500.40 404.10,468.40 453.70,482.20 492.80,489.80" fill="none" stroke="#1a1ae6" stroke-width="1.35" stroke-linejoin="round" />
<line x1="307.60" y1="493.40" x2="307.60" y2="507.80" stroke="#1a1ae6" stroke-width="1.0" />
<line x1="304.60" y1="493.40" x2="310.60" y2="493.40" stroke="#1a1ae6" stroke-width="1.0" />
<line x1="304.60" y1="507.80" x2="310.60" y2="507.80" stroke="#1a1ae6" stroke-width="1.0" />
<polygon points="307.60,497.03 311.00,503.15 304.20,503.15" fill="#fff" stroke="#1a1ae6" stroke-width="1.0"/>
<line x1="337.40" y1="496.80" x2="337.40" y2="504.80" stroke="#1a1ae6" stroke-width="1.0" />
<line x1="334.40" y1="496.80" x2="340.40" y2="496.80" stroke="#1a1ae6" stroke-width="1.0" />
<line x1="334.40" y1="504.80" x2="340.40" y2="504.80" stroke="#1a1ae6" stroke-width="1.0" />
<polygon points="337.40,497.23 340.80,503.35 334.00,503.35" fill="#fff" stroke="#1a1ae6" stroke-width="1.0"/>
<line x1="398.90" y1="489.50" x2="398.90" y2="511.30" stroke="#1a1ae6" stroke-width="1.0" />
<line x1="395.90" y1="489.50" x2="401.90" y2="489.50" stroke="#1a1ae6" stroke-width="1.0" />
<line x1="395.90" y1="511.30" x2="401.90" y2="511.30" stroke="#1a1ae6" stroke-width="1.0" />
<polygon points="398.90,496.83 402.30,502.95 395.50,502.95" fill="#fff" stroke="#1a1ae6" stroke-width="1.0"/>
<line x1="404.10" y1="462.90" x2="404.10" y2="473.90" stroke="#1a1ae6" stroke-width="1.0" />
<line x1="401.10" y1="462.90" x2="407.10" y2="462.90" stroke="#1a1ae6" stroke-width="1.0" />
<line x1="401.10" y1="473.90" x2="407.10" y2="473.90" stroke="#1a1ae6" stroke-width="1.0" />
<polygon points="404.10,464.83 407.50,470.95 400.70,470.95" fill="#fff" stroke="#1a1ae6" stroke-width="1.0"/>
<line x1="453.70" y1="473.60" x2="453.70" y2="490.80" stroke="#1a1ae6" stroke-width="1.0" />
<line x1="450.70" y1="473.60" x2="456.70" y2="473.60" stroke="#1a1ae6" stroke-width="1.0" />
<line x1="450.70" y1="490.80" x2="456.70" y2="490.80" stroke="#1a1ae6" stroke-width="1.0" />
<polygon points="453.70,478.63 457.10,484.75 450.30,484.75" fill="#fff" stroke="#1a1ae6" stroke-width="1.0"/>
<line x1="492.80" y1="484.20" x2="492.80" y2="495.40" stroke="#1a1ae6" stroke-width="1.0" />
<line x1="489.80" y1="484.20" x2="495.80" y2="484.20" stroke="#1a1ae6" stroke-width="1.0" />
<line x1="489.80" y1="495.40" x2="495.80" y2="495.40" stroke="#1a1ae6" stroke-width="1.0" />
<polygon points="492.80,486.23 496.20,492.35 489.40,492.35" fill="#fff" stroke="#1a1ae6" stroke-width="1.0"/>
<line x1="298.50" y1="366.00" x2="298.50" y2="546.00" stroke="#2a2a2a" stroke-width="1.0" />
<line x1="502.00" y1="366.00" x2="502.00" y2="546.00" stroke="#2a2a2a" stroke-width="1.0" />
<line x1="298.00" y1="366.50" x2="502.50" y2="366.50" stroke="#2a2a2a" stroke-width="1.0" />
<line x1="298.00" y1="545.50" x2="502.50" y2="545.50" stroke="#2a2a2a" stroke-width="1.0" />
<line x1="307.60" y1="545.50" x2="307.60" y2="542.30" stroke="#2a2a2a" stroke-width="1.0" />
<line x1="326.12" y1="545.50" x2="326.12" y2="543.90" stroke="#2a2a2a" stroke-width="1.0" />
<line x1="344.64" y1="545.50" x2="344.64" y2="542.30" stroke="#2a2a2a" stroke-width="1.0" />
<line x1="363.16" y1="545.50" x2="363.16" y2="543.90" stroke="#2a2a2a" stroke-width="1.0" />
<line x1="381.68" y1="545.50" x2="381.68" y2="542.30" stroke="#2a2a2a" stroke-width="1.0" />
<line x1="400.20" y1="545.50" x2="400.20" y2="543.90" stroke="#2a2a2a" stroke-width="1.0" />
<line x1="418.72" y1="545.50" x2="418.72" y2="542.30" stroke="#2a2a2a" stroke-width="1.0" />
<line x1="437.24" y1="545.50" x2="437.24" y2="543.90" stroke="#2a2a2a" stroke-width="1.0" />
<line x1="455.76" y1="545.50" x2="455.76" y2="542.30" stroke="#2a2a2a" stroke-width="1.0" />
<line x1="474.28" y1="545.50" x2="474.28" y2="543.90" stroke="#2a2a2a" stroke-width="1.0" />
<line x1="492.80" y1="545.50" x2="492.80" y2="542.30" stroke="#2a2a2a" stroke-width="1.0" />
<line x1="298.50" y1="545.70" x2="301.90" y2="545.70" stroke="#2a2a2a" stroke-width="1.0" />
<line x1="298.50" y1="521.78" x2="301.90" y2="521.78" stroke="#2a2a2a" stroke-width="1.0" />
<line x1="298.50" y1="497.87" x2="301.90" y2="497.87" stroke="#2a2a2a" stroke-width="1.0" />
<line x1="298.50" y1="473.96" x2="301.90" y2="473.96" stroke="#2a2a2a" stroke-width="1.0" />
<line x1="298.50" y1="450.04" x2="301.90" y2="450.04" stroke="#2a2a2a" stroke-width="1.0" />
<line x1="298.50" y1="426.13" x2="301.90" y2="426.13" stroke="#2a2a2a" stroke-width="1.0" />
<line x1="298.50" y1="402.21" x2="301.90" y2="402.21" stroke="#2a2a2a" stroke-width="1.0" />
<line x1="298.50" y1="378.30" x2="301.90" y2="378.30" stroke="#2a2a2a" stroke-width="1.0" />
<line x1="298.50" y1="533.74" x2="300.30" y2="533.74" stroke="#2a2a2a" stroke-width="1.0" />
<line x1="298.50" y1="509.83" x2="300.30" y2="509.83" stroke="#2a2a2a" stroke-width="1.0" />
<line x1="298.50" y1="485.91" x2="300.30" y2="485.91" stroke="#2a2a2a" stroke-width="1.0" />
<line x1="298.50" y1="462.00" x2="300.30" y2="462.00" stroke="#2a2a2a" stroke-width="1.0" />
<line x1="298.50" y1="438.09" x2="300.30" y2="438.09" stroke="#2a2a2a" stroke-width="1.0" />
<line x1="298.50" y1="414.17" x2="300.30" y2="414.17" stroke="#2a2a2a" stroke-width="1.0" />
<line x1="298.50" y1="390.26" x2="300.30" y2="390.26" stroke="#2a2a2a" stroke-width="1.0" />
<text x="295.20" y="549.50" font-size="13.4" fill="#1a1a1a" text-anchor="end" >104</text>
<text x="295.20" y="525.58" font-size="13.4" fill="#1a1a1a" text-anchor="end" >106</text>
<text x="295.20" y="501.67" font-size="13.4" fill="#1a1a1a" text-anchor="end" >108</text>
<text x="295.20" y="477.76" font-size="13.4" fill="#1a1a1a" text-anchor="end" >110</text>
<text x="295.20" y="453.84" font-size="13.4" fill="#1a1a1a" text-anchor="end" >112</text>
<text x="295.20" y="429.93" font-size="13.4" fill="#1a1a1a" text-anchor="end" >114</text>
<text x="295.20" y="406.01" font-size="13.4" fill="#1a1a1a" text-anchor="end" >116</text>
<text x="295.20" y="382.10" font-size="13.4" fill="#1a1a1a" text-anchor="end" >118</text>
<text x="256.00" y="382.30" font-size="13.4" fill="#1a1a1a" text-anchor="start" >(f)</text>
<text transform="translate(266.2,465.1) rotate(-90)" font-size="13.45" fill="#1a1a1a" text-anchor="middle">Ch2-Fe2-Ch2 (°)</text>
<text x="307.60" y="560.50" font-size="13.4" fill="#1a1a1a" text-anchor="middle" >0.0</text>
<text x="344.64" y="560.50" font-size="13.4" fill="#1a1a1a" text-anchor="middle" >0.4</text>
<text x="381.68" y="560.50" font-size="13.4" fill="#1a1a1a" text-anchor="middle" >0.8</text>
<text x="418.72" y="560.50" font-size="13.4" fill="#1a1a1a" text-anchor="middle" >1.2</text>
<text x="455.76" y="560.50" font-size="13.4" fill="#1a1a1a" text-anchor="middle" >1.6</text>
<text x="492.80" y="560.50" font-size="13.4" fill="#1a1a1a" text-anchor="middle" >2.0</text>
<text x="347.30" y="575.0" font-size="13.2" fill="#1a1a1a">z in K<tspan font-size="8.5" dy="4.6">x</tspan><tspan dy="-4.6">Fe</tspan><tspan font-size="8.5" dy="4.6">2-y</tspan><tspan dy="-4.6">Se</tspan><tspan font-size="8.5" dy="4.6">2-z</tspan><tspan dy="-4.6">S</tspan><tspan font-size="8.5" dy="4.6">z</tspan></text>
</svg></body></html>
